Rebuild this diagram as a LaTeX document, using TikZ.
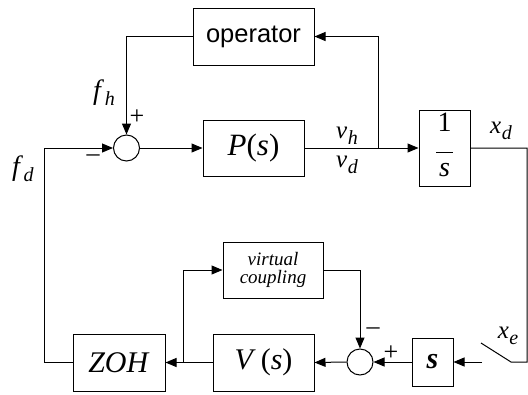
\documentclass[tikz,border=0pt]{standalone}
\usepackage{fontspec}
\setmainfont{Liberation Serif}
\newfontfamily\opfont{Liberation Sans}
\usetikzlibrary{arrows.meta}
\newcommand{\fs}[1]{\fontsize{#1}{#1}\selectfont}
% italic symbol with a lowered italic subscript
\newcommand{\sigsub}[2]{\textit{#1}\kern0.5pt\raisebox{-6pt}{\fs{20}\textit{#2}}}
\tikzset{
  blk/.style={draw, line width=1pt, inner sep=0pt, rectangle},
  sumnode/.style={draw, line width=1pt, circle, minimum size=26pt, inner sep=0pt},
  wire/.style={line width=1pt},
  sig/.style={wire, -{Triangle[length=11pt,width=9pt]}},
  lbl/.style={inner sep=0pt, font=\fs{25}},
  sgn/.style={inner sep=0pt, font=\fs{26}},
}
\begin{document}
\begin{tikzpicture}[x=1pt, y=-1pt]
\useasboundingbox (0,0) rectangle (528,394);

% blocks of the forward loop
\node[blk, minimum width=121pt, minimum height=57pt, font=\opfont\fs{25.5}] (op) at (253.5,36.5) {operator};
\node[sumnode] (s1) at (126.5,148) {};
\node[blk, minimum width=101pt, minimum height=56pt, font=\fs{31}] (P) at (253.5,148) {\textit{P}(\textit{s})};
\node[blk, minimum width=51pt, minimum height=76pt, font=\fs{28}] (I) at (444.5,148)
  {\begin{tabular}{@{}c@{}}1\\[-7pt]\rule{17pt}{0.6pt}\\[-4pt]\textit{s}\end{tabular}};

% blocks of the virtual side
\node[blk, minimum width=92pt, minimum height=57pt, font=\fs{30}] (zoh) at (119,362.5) {\textit{ZOH}};
\node[blk, minimum width=101pt, minimum height=57pt, font=\fs{30}] (V) at (263.5,362.5) {\textit{V}\,(\textit{s})};
\node[blk, minimum width=100pt, minimum height=56pt, font=\fs{19}, align=center] (vc) at (273,270)
  {\textit{virtual}\\[-1pt]\textit{coupling}};
\node[sumnode] (s2) at (360,362) {};
\node[blk, minimum width=41pt, minimum height=48pt, font=\fs{30}] (sb) at (432.5,362) {\textbf{\textit{s}}};

% branch points and switch
\coordinate (bv) at (378,148);
\coordinate (fdc) at (44,148);
\coordinate (xr) at (527,148);
\coordinate (xb) at (527,362);
\coordinate (swa) at (511,362);
\coordinate (swb) at (481,343);
\coordinate (swo) at (482,362);
\coordinate (bz) at (183,362.5);

% connectors
\draw[sig] (op.west) -| (s1.north);
\draw[sig] (s1.east) -- (P.west);
\draw[sig] (P.east) -- (I.west);
\draw[sig] (bv) |- (op.east);
\draw[wire] (I.east) -- (xr) -- (xb) -- (swa) -- (swb);
\draw[sig] (swo) -- (sb.east);
\draw[sig] (sb.west) -- (s2.east);
\draw[sig] (s2.west) -- (V.east);
\draw[sig] (V.west) -- (zoh.east);
\draw[sig] (bz) |- (vc.west);
\draw[sig] (vc.east) -| (s2.north);
\draw[sig] (zoh.west) -| (fdc) -- (s1.west);

% signal labels
\node[lbl, font=\fs{28}] (lfh) at (104,93) {\sigsub{f}{h}};
\node[lbl, font=\fs{28}] (lfd) at (23,169) {\sigsub{f}{d}};
\node[lbl] (lvh) at (347,136) {\sigsub{v}{h}};
\node[lbl] (lvd) at (347,165) {\sigsub{v}{d}};
\node[lbl] (lxd) at (501,131) {\sigsub{x}{d}};
\node[lbl] (lxe) at (508,336) {\sigsub{x}{e}};

% summing signs
\node[sgn] (p1) at (137,117) {+};
\node[sgn] (m1) at (93,158) {\textendash};
\node[sgn] (p2) at (391,353) {+};
\node[sgn] (m2) at (373,331) {\textendash};
\end{tikzpicture}
\end{document}
